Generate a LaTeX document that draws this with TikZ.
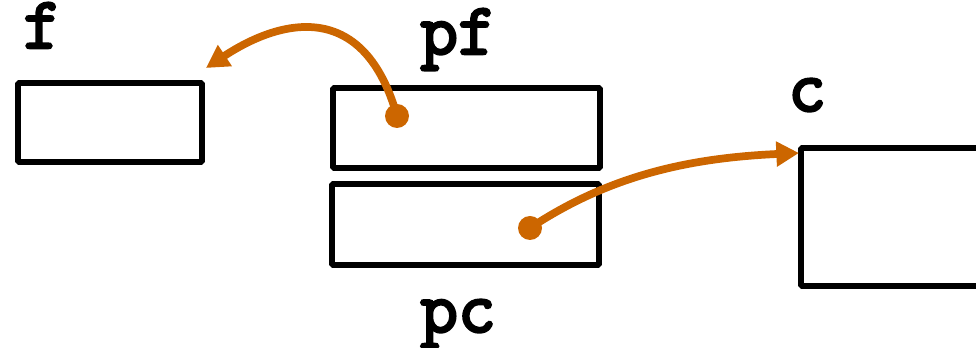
\documentclass[tikz,border=0pt]{standalone}
\usepackage{fontspec}
\setmonofont{Latin Modern Mono}[AutoFakeBold=3.5]
\usetikzlibrary{arrows.meta}
\definecolor{ptrorange}{RGB}{204,102,0}
\tikzset{
    membox/.style={draw, line width=4.2pt, rounded corners=0.8pt, inner sep=0pt},
    varname/.style={font=\fontsize{55}{55}\selectfont\ttfamily\bfseries, inner sep=0pt, anchor=base west},
    ptrdot/.style={circle, fill=ptrorange, inner sep=0pt, minimum size=18pt},
    ptrarrow/.style={draw=ptrorange, line width=5.8pt, -{Triangle[length=17pt, width=18pt]}}
}
\begin{document}
\begin{tikzpicture}[x=0.75pt,y=0.75pt,yscale=-1,xscale=1]
    \useasboundingbox (0,0) rectangle (976,348);

    % Text Node
    \node (boxF) [membox, minimum width=138pt, minimum height=59.25pt] at (110,122.5) {};
    \node (nameF) [varname] at (23,48) {f};
    % Text Node
    \node (boxPF) [membox, minimum width=200.25pt, minimum height=60pt] at (466.5,128) {};
    \node (namePF) [varname] at (420,54) {pf};
    % Text Node
    \node (boxPC) [membox, minimum width=200.25pt, minimum height=60.75pt] at (465.5,224.5) {};
    \node (namePC) [varname] at (420,332) {pc};
    % Text Node
    \node (boxC) [membox, minimum width=180pt, minimum height=103.5pt] at (921,217) {};
    \node (nameC) [varname] at (788,111) {c};

    % Connection
    \node (dotPF) [ptrdot] at (397,116) {};
    \coordinate (tipF) at (206,68);
    \draw [ptrarrow] (dotPF.center) .. controls (365,2) and (285,16) .. (tipF);
    % Connection
    \node (dotPC) [ptrdot] at (530,228) {};
    \coordinate (tipC) at (799,153);
    \draw [ptrarrow] (dotPC.center) .. controls (610,175) and (690,158) .. (tipC);

\end{tikzpicture}
\end{document}
